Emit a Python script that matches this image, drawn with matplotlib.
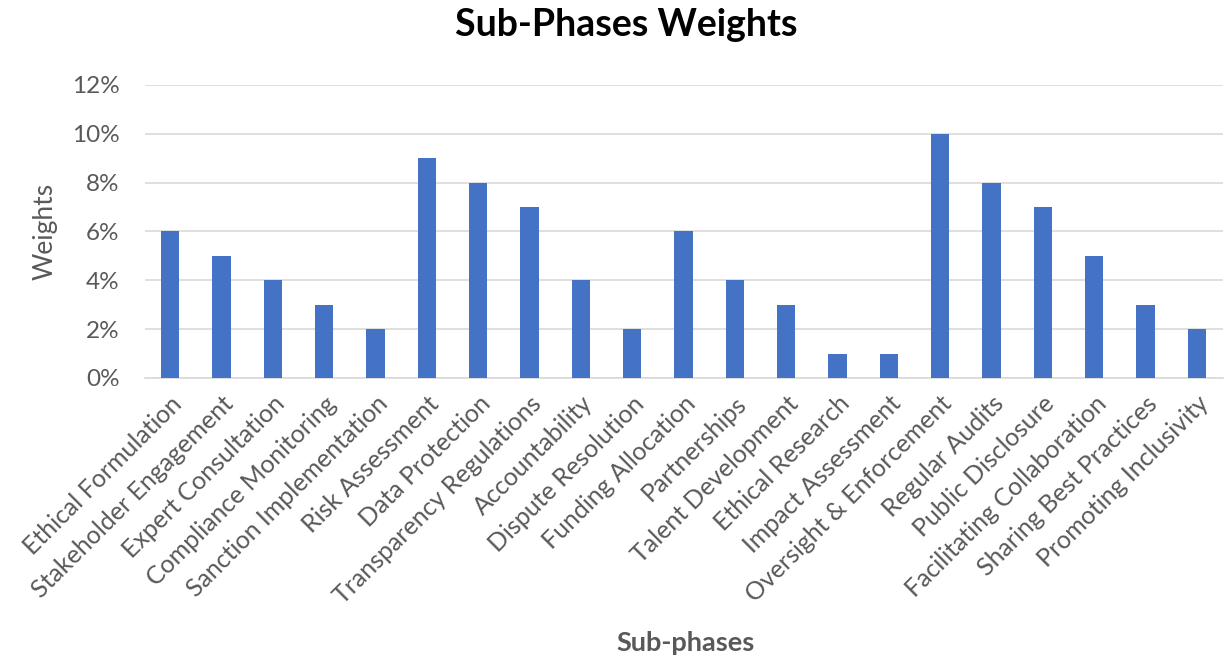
import matplotlib
matplotlib.use("Agg")
import matplotlib.pyplot as plt
from matplotlib.ticker import PercentFormatter

# data
sub_phases = [
    "Ethical Formulation", "Stakeholder Engagement", "Expert Consultation",
    "Compliance Monitoring", "Sanction Implementation", "Risk Assessment",
    "Data Protection", "Transparency Regulations", "Accountability",
    "Dispute Resolution", "Funding Allocation", "Partnerships",
    "Talent Development", "Ethical Research", "Impact Assessment",
    "Oversight & Enforcement", "Regular Audits", "Public Disclosure",
    "Facilitating Collaboration", "Sharing Best Practices", "Promoting Inclusivity",
]
weights = [6, 5, 4, 3, 2, 9, 8, 7, 4, 2, 6, 4, 3, 1, 1, 10, 8, 7, 5, 3, 2]

plt.rcParams["font.family"] = ["Lato", "DejaVu Sans"]
gray = "#595959"

fig = plt.figure(figsize=(12.25, 6.69), dpi=100)
ax = fig.add_axes([0.118, 0.435, 0.88, 0.438])

x = range(len(sub_phases))
ax.bar(x, weights, width=0.36, color="#4472C4", zorder=3)

ax.set_xlim(-0.5, len(sub_phases) - 0.5)
ax.set_ylim(0, 12)
ax.set_yticks(range(0, 13, 2))
ax.yaxis.set_major_formatter(PercentFormatter(decimals=0))
ax.grid(axis="y", color="#D9D9D9", linewidth=1.2, zorder=0)

ax.set_xticks(list(x))
ax.set_xticklabels(sub_phases, rotation=45, ha="right", rotation_mode="anchor",
                   fontsize=18, color=gray)
ax.tick_params(axis="y", labelsize=17.5, labelcolor=gray, length=0, pad=18)
ax.tick_params(axis="x", length=0, pad=10)

for s in ["top", "right", "left"]:
    ax.spines[s].set_visible(False)
ax.spines["bottom"].set_color("#D9D9D9")
ax.spines["bottom"].set_linewidth(1.2)

ax.set_ylabel("Weights", fontsize=19, color=gray, labelpad=10)
fig.text(0.56, 0.027, "Sub-phases", ha="center", fontsize=19.5, fontweight="bold", color=gray)
fig.text(0.511, 0.962, "Sub-Phases Weights", ha="center", va="center",
         fontsize=27, fontweight="bold", color="black")

fig.savefig("out.png", dpi=100)
